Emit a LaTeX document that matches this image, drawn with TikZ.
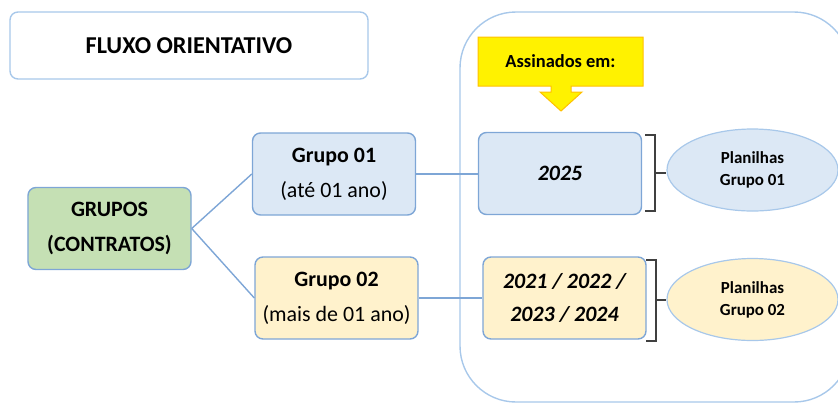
\documentclass[tikz,border=0pt]{standalone}
\usepackage{fontspec}
\setmainfont{Carlito}
\usepackage{tikz}
\usetikzlibrary{positioning, shapes.geometric}
\definecolor{boxline}{HTML}{7EA6D6}
\definecolor{paleline}{HTML}{A8C8EA}
\definecolor{bluefill}{HTML}{DCE8F5}
\definecolor{yellowfill}{HTML}{FFF2CC}
\definecolor{greenfill}{HTML}{C5E0B4}
\definecolor{calloutline}{HTML}{FFC000}
\definecolor{brkgray}{HTML}{404040}
\tikzset{
x=1bp, y=-1bp, % one unit is one pixel of the layout, y runs downwards
box/.style={draw=boxline, line width=1.4bp, rounded corners=8bp, align=center, minimum width=163bp, minimum height=82bp, inner sep=0pt}, % the rounded boxes
bigtext/.style={font=\fontsize{22}{35}\selectfont}, % text in the boxes
smalltext/.style={font=\fontsize{17}{22}\selectfont\bfseries}, % text in ellipses
sheet/.style={ellipse, draw=paleline, line width=1.2bp, minimum width=171bp, minimum height=82bp, align=center, inner sep=0pt}, % the ellipses on the right
link/.style={draw=boxline, line width=1.4bp}, % lines between the boxes
brk/.style={draw=brkgray, line width=1.4bp}, % the brackets
}
\begin{document}
\begin{tikzpicture}
    \useasboundingbox (0,0) rectangle (838,403);
    \begin{scope}
        \clip (0,0) rectangle (838,403);
        \draw[paleline, line width=1.4bp, rounded corners=56bp] (460,12) rectangle (850,402);
    \end{scope}
    \node[box, draw=paleline, minimum width=358bp, minimum height=67bp, font=\fontsize{24.3}{28}\selectfont\bfseries] (title) at (189,45.5) {FLUXO ORIENTATIVO};
    \draw[fill=yellow, draw=calloutline, line width=1bp] (478,37) -- (643,37) -- (643,86) -- (571,86) -- (571,92) -- (582,92) -- (561,111) -- (540,92) -- (551,92) -- (551,86) -- (478,86) -- cycle;
    \node[font=\fontsize{18.5}{22}\selectfont\bfseries] (assin) at (560.5,61.5) {Assinados em:};
    \node[box, fill=greenfill, bigtext] (grupos) at (109.5,228.5) {\textbf{GRUPOS}\\\textbf{(CONTRATOS)}};
    \node[box, fill=bluefill, bigtext] (g01) at (334,174) {\textbf{Grupo 01}\\(até 01 ano)};
    \node[box, fill=yellowfill, bigtext] (g02) at (336.5,298) {\textbf{Grupo 02}\\(mais de 01 ano)};
    \node[box, fill=bluefill, font=\fontsize{22}{35}\selectfont\bfseries\itshape] (y2025) at (560,173.5) {2025};
    \node[box, fill=yellowfill, font=\fontsize{22}{34}\selectfont\bfseries\itshape] (y2021) at (564.5,298) {2021 / 2022 /\\2023 / 2024};
    \node[sheet, fill=bluefill, smalltext] (pl01) at (752.5,170) {Planilhas\\Grupo 01};
    \node[sheet, fill=yellowfill, smalltext] (pl02) at (752.5,299.5) {Planilhas\\Grupo 02};
    \draw[link] (grupos.east) -- (g01.west);
    \draw[link] (grupos.east) -- (g02.west);
    \draw[link] (g01.east) -- (y2025.west |- g01.east);
    \draw[link] (g02.east) -- (y2021.west |- g02.east);
    \coordinate (br1) at (655,173);
    \coordinate (br2) at (656,300);
    \draw[brk] (645,135) -| (655,211) -- (645,211);
    \draw[brk] (646,260) -| (656,341) -- (646,341);
    \draw[brk] (br1) -- (pl01.west |- br1);
    \draw[brk] (br2) -- (pl02.west |- br2);
\end{tikzpicture}
\end{document}
